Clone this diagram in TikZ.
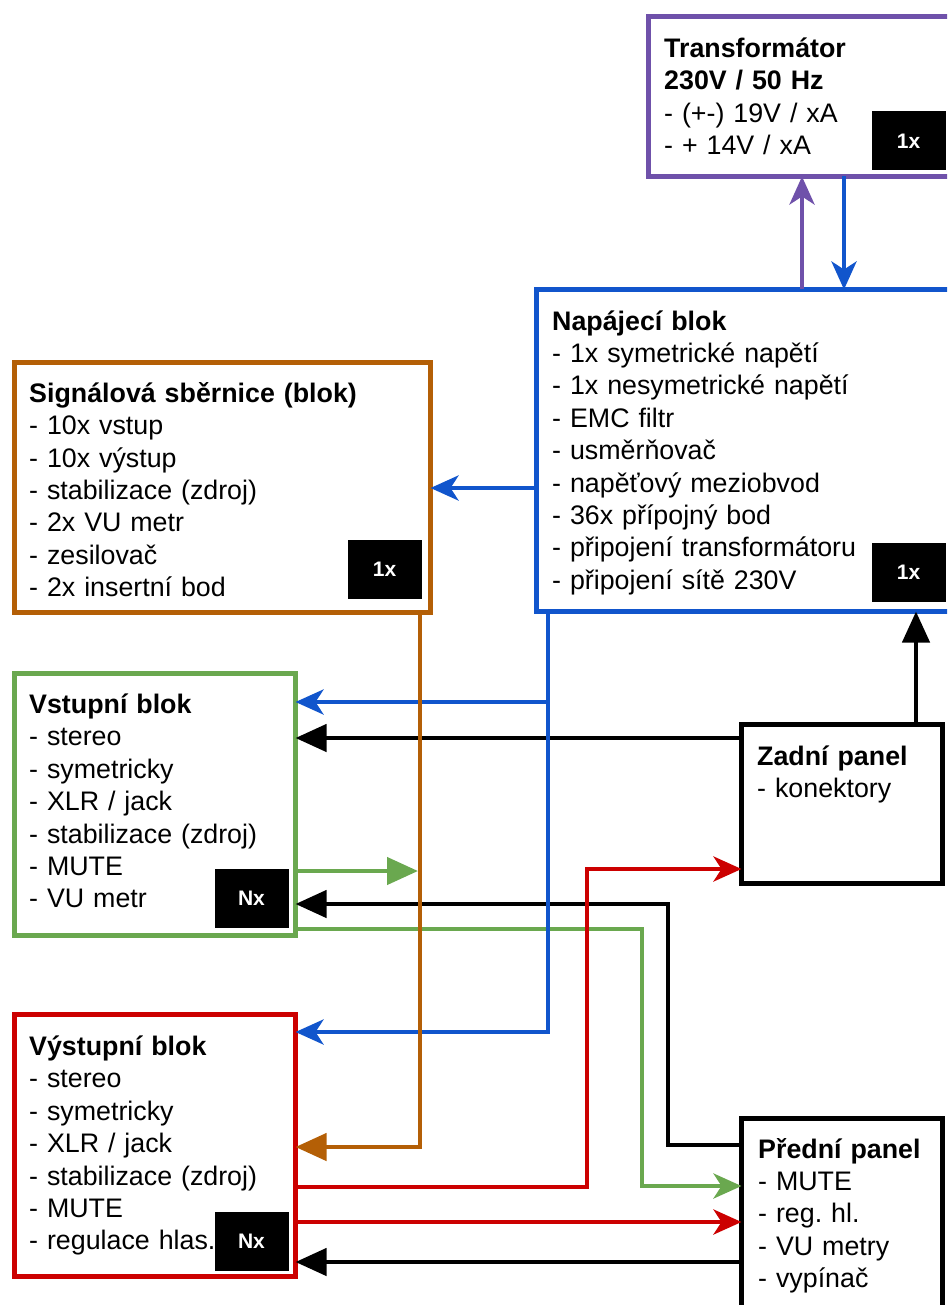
\documentclass[tikz,border=0pt]{standalone}
\usepackage{fontspec}
\setmainfont{Liberation Sans}
\usetikzlibrary{arrows.meta}
\definecolor{cblue}{HTML}{1155CC}
\definecolor{cgreen}{HTML}{6AA84F}
\definecolor{cred}{HTML}{CC0000}
\definecolor{corange}{HTML}{B45F06}
\definecolor{cpurple}{HTML}{6F51AA}
\frenchspacing
\begin{document}
\begin{tikzpicture}[x=1pt,y=-1pt,
  blockbox/.style={draw, line width=4.2pt, inner sep=0pt, outer sep=0pt, anchor=north west, fill=white},
  txt/.style={anchor=base west, inner sep=0pt, align=left, text width=340pt,
    font=\fontsize{26.8pt}{32.4pt}\selectfont},
  badge/.style={fill=black, text=white, inner sep=0pt, minimum width=74pt, minimum height=59pt,
    font=\fontsize{21pt}{24pt}\selectfont\bfseries},
  conn/.style={line width=4.4pt},
  stl/.style={-{Stealth[length=28pt,width=25pt,inset=8pt]}},
  tri/.style={-{Triangle[length=31pt,width=27pt]}}]
\useasboundingbox (0,0) rectangle (947,1305);
\clip (0,0) rectangle (947,1305);

% boxes
\node[blockbox, draw=cpurple, minimum width=312pt, minimum height=160pt] (trafo) at (648.5,16.5) {};
\node[blockbox, draw=cblue, minimum width=420pt, minimum height=322pt] (napaj) at (536.5,289.5) {};
\node[blockbox, draw=corange, minimum width=416pt, minimum height=250pt] (signal) at (14.5,362.5) {};
\node[blockbox, draw=cgreen, minimum width=281pt, minimum height=262pt] (vstup) at (14.5,673.5) {};
\node[blockbox, draw=cred, minimum width=281pt, minimum height=262pt] (vystup) at (14.5,1014.5) {};
\node[blockbox, draw=black, minimum width=201pt, minimum height=159pt] (zadni) at (741.5,724.5) {};
\node[blockbox, draw=black, minimum width=201pt, minimum height=220pt] (predni) at (741.5,1118.5) {};

% texts
\node[txt] (trafoT) at (664,57.3) {\textbf{Transformátor}\\\textbf{230V / 50 Hz}\\- (+-) 19V / xA\\- + 14V / xA};
\node[txt] (napajT) at (552,330) {\textbf{Napájecí blok}\\- 1x symetrické napětí\\- 1x nesymetrické napětí\\- EMC filtr\\- usměrňovač\\- napěťový meziobvod\\- 36x přípojný bod\\- připojení transformátoru\\- připojení sítě 230V};
\node[txt] (signalT) at (29,402.3) {\textbf{Signálová sběrnice (blok)}\\- 10x vstup\\- 10x výstup\\- stabilizace (zdroj)\\- 2x VU metr\\- zesilovač\\- 2x insertní bod};
\node[txt] (vstupT) at (29,713.5) {\textbf{Vstupní blok}\\- stereo\\- symetricky\\- XLR / jack\\- stabilizace (zdroj)\\- MUTE\\- VU metr};
\node[txt] (vystupT) at (29,1055.5) {\textbf{Výstupní blok}\\- stereo\\- symetricky\\- XLR / jack\\- stabilizace (zdroj)\\- MUTE\\- regulace hlas.};
\node[txt] (zadniT) at (757,765) {\textbf{Zadní panel}\\- konektory};
\node[txt] (predniT) at (758,1158) {\textbf{Přední panel}\\- MUTE\\- reg. hl.\\- VU metry\\- vypínač};

% badges
\node[badge] (trafoB) at (908.5,141) {1x};
\node[badge] (napajB) at (908.5,572.5) {1x};
\node[badge] (signalB) at (384.5,569.5) {1x};
\node[badge] (vstupB) at (251.5,898.5) {Nx};
\node[badge] (vystupB) at (251.5,1241) {Nx};

% coordinates
\coordinate (p1) at (802,0);
\coordinate (p2) at (844,0);
\coordinate (y1) at (0,488);
\coordinate (bx) at (548,0);
\coordinate (bj1) at (548,702);
\coordinate (bj2) at (548,1032);
\coordinate (y2) at (0,738);
\coordinate (x3) at (916,0);
\coordinate (g1) at (418,871);
\coordinate (k1) at (668,1145);
\coordinate (k2) at (668,904);
\coordinate (g2) at (642,929);
\coordinate (g3) at (642,1186);
\coordinate (r1) at (587,1187);
\coordinate (r2) at (587,869);
\coordinate (r3) at (0,1222);
\coordinate (k3) at (0,1262);
\coordinate (o1) at (420,1147);

% black connectors
\draw[conn, black, tri] (zadni.west |- y2) -- (vstup.east |- y2);
\draw[conn, black, tri] (zadni.north -| x3) -- (napaj.south -| x3);
\draw[conn, black, tri] (predni.west |- k1) -- (k1) -- (k2) -- (vstup.east |- k2);
\draw[conn, black, tri] (predni.west |- k3) -- (vystup.east |- k3);
% green connectors
\draw[conn, cgreen, tri] (vstup.east |- g1) -- (g1);
\draw[conn, cgreen, stl] (vstup.east |- g2) -- (g2) -- (g3) -- (predni.west |- g3);
% purple / blue connectors
\draw[conn, cpurple, stl] (napaj.north -| p1) -- (trafo.south -| p1);
\draw[conn, cblue, stl] (trafo.south -| p2) -- (napaj.north -| p2);
\draw[conn, cblue, stl] (napaj.west |- y1) -- (signal.east |- y1);
\draw[conn, cblue, stl] (napaj.south -| bx) -- (bj2) -- (vystup.east |- bj2);
\draw[conn, cblue, stl] (bj1) -- (vstup.east |- bj1);
% red connectors
\draw[conn, cred, stl] (vystup.east |- r1) -- (r1) -- (r2) -- (zadni.west |- r2);
\draw[conn, cred, stl] (vystup.east |- r3) -- (predni.west |- r3);
% orange connector
\draw[conn, corange, tri] (signal.south -| o1) -- (o1) -- (vystup.east |- o1);
\end{tikzpicture}
\end{document}
